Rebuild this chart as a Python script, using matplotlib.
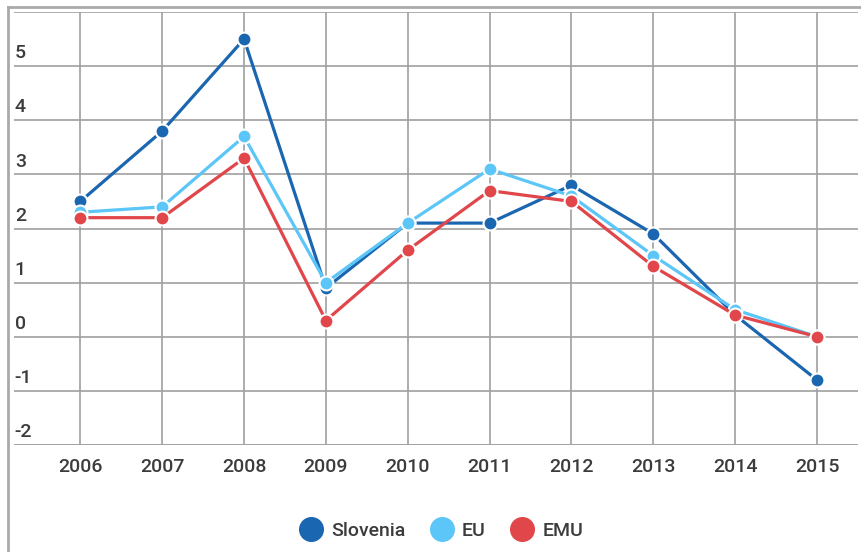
# Inflation chart: Slovenia vs EU vs EMU

import matplotlib.pyplot as plt
from matplotlib.lines import Line2D

plt.rcParams['font.family'] = ['Roboto', 'DejaVu Sans']

years = [2006, 2007, 2008, 2009, 2010, 2011, 2012, 2013, 2014, 2015]
slovenia = [2.5, 3.8, 5.5, 0.9, 2.1, 2.1, 2.8, 1.9, 0.4, -0.8]
eu = [2.3, 2.4, 3.7, 1.0, 2.1, 3.1, 2.6, 1.5, 0.5, 0.0]
emu = [2.2, 2.2, 3.3, 0.3, 1.6, 2.7, 2.5, 1.3, 0.4, 0.0]
y_ticks = [-2, -1, 0, 1, 2, 3, 4, 5]

series = [('Slovenia', slovenia, '#1b66b0'),
          ('EU', eu, '#5bc6f7'),
          ('EMU', emu, '#e0464a')]

fig = plt.figure(figsize=(8.62, 5.52), dpi=100)
ax = fig.add_axes([14 / 862, 1 - 445 / 552, 844 / 862, 433 / 552])

for name, vals, col in series:
    ax.plot(years, vals, color=col, lw=2.3, marker='o', ms=10,
            mfc=col, mec='white', mew=1.5, zorder=3)

ax.set_xlim(2005.19, 2015.5)
ax.set_ylim(-2, 6)
ax.set_xticks(years)
ax.set_yticks(y_ticks + [6])
ax.set_yticklabels([])
ax.grid(True, color='#a0a0a0', lw=1.2)
ax.tick_params(length=0, pad=9, labelsize=14, labelcolor='#3c3c3c')
for lab in ax.get_xticklabels():
    lab.set_fontweight('medium')
for s in ax.spines.values():
    s.set_visible(False)
ax.axhline(-2, color='#a0a0a0', lw=1.2)

# y labels sit just above their grid lines
for v in y_ticks:
    ax.text(0.001, v + 0.07, str(v), transform=ax.get_yaxis_transform(),
            ha='left', va='bottom', fontsize=14, color='#3c3c3c',
            fontweight='medium')

# page frame around the chart (top and left edges only)
fig.add_artist(Line2D([8 / 862, 1], [1 - 7 / 552, 1 - 7 / 552],
                      transform=fig.transFigure, color='#aaaaaa', lw=2))
fig.add_artist(Line2D([8 / 862, 8 / 862], [0, 1 - 7 / 552],
                      transform=fig.transFigure, color='#aaaaaa', lw=2))

handles = [Line2D([], [], ls='', marker='o', ms=17, color=c, label=n)
           for n, v, c in series]
leg = fig.legend(handles=handles, loc='center', bbox_to_anchor=(0.51, 0.038),
                 ncol=3, frameon=False, fontsize=14, handletextpad=0.3,
                 columnspacing=1.1, handlelength=1.5)
for t in leg.get_texts():
    t.set_color('#3c3c3c')
    t.set_fontweight('medium')

fig.savefig('out.png', dpi=100)
